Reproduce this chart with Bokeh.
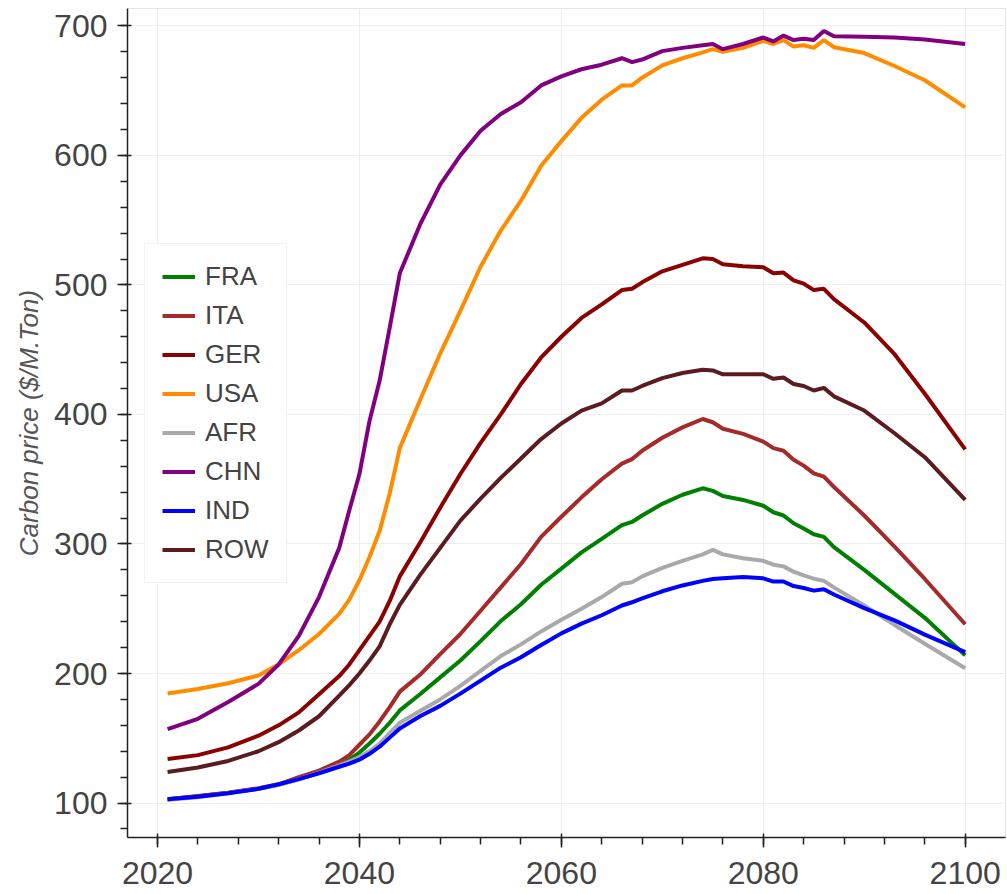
from bokeh.plotting import figure
from bokeh.models import Range1d, SingleIntervalTicker
from bokeh.embed import file_html
from bokeh.resources import INLINE

years = [2021, 2024, 2027, 2030, 2032, 2034, 2036, 2038, 2039, 2040, 2041, 2042, 2043, 2044,
         2046, 2048, 2050, 2052, 2054, 2056, 2058, 2060, 2062, 2064, 2066, 2067, 2068, 2070,
         2072, 2074, 2075, 2076, 2078, 2080, 2081, 2082, 2083, 2084, 2085, 2086, 2087, 2090,
         2093, 2096, 2100]

FRA = [103, 105.3, 108, 111, 114, 118.5, 123.5, 129, 133.5, 139, 146, 153.5, 162, 171.5,
       184, 197, 210, 225, 240.5, 253.5, 268.5, 281, 293.5, 304, 314.5, 317, 322, 331,
       338, 343, 341, 337, 334, 329.5, 324.5, 322, 316, 312, 307.5, 305.5, 297.5, 280,
       261.5, 243, 214]
ITA = [103, 105.5, 108, 111.5, 114.5, 120, 125, 132, 137, 145, 153, 163, 174, 186,
       199, 215, 230.5, 248.5, 266.5, 284.5, 305.5, 321, 336, 350, 362, 365.5, 372, 382,
       390, 396.5, 394, 389, 385, 379, 374, 372, 365, 360.5, 354.5, 352, 344, 322,
       298, 273, 238]
GER = [134, 137, 143, 152, 160, 170, 184, 198, 207, 218, 229, 240, 256, 275,
       301, 328, 354, 378, 400, 423.5, 444, 460, 474.5, 485, 496, 497, 502, 510.5,
       515.5, 520.5, 520, 516, 514.5, 513.7, 509, 509.5, 503.5, 501, 496, 497, 489, 471,
       446.5, 416, 373]
USA = [184.5, 188, 192.5, 198.5, 207, 218, 230.5, 246, 257, 272, 290, 310, 339, 374,
       411, 447, 480, 514, 542, 565, 592, 611, 629, 643, 654, 654, 660, 669.5,
       675, 679.5, 682, 680, 683, 688.5, 686, 689, 684, 685, 683, 689, 683.5, 679,
       669, 658, 637]
AFR = [102.5, 104.5, 107.5, 111, 114, 118.5, 123.5, 129, 132, 135.5, 140, 146, 154, 162,
       171, 180, 190.5, 202, 213.5, 222.5, 232.5, 241.5, 250, 259, 269.3, 270.5, 275, 281.5,
       287, 292, 295.5, 292, 289, 287, 284, 282.7, 278.6, 275.7, 273.2, 271.5, 266.5, 252.5,
       237.5, 223, 204]
CHN = [157, 165, 178, 192, 207, 229, 259, 297, 326, 354, 395, 426, 467, 509,
       546.5, 577.5, 600, 619, 632, 641, 654, 661, 666.5, 670, 675, 672, 674, 680.5,
       683, 685, 686, 682, 686, 691, 688, 692.5, 689, 690, 689, 696, 692, 691.5,
       691, 689.5, 686]
IND = [103, 104.8, 107.5, 111, 114.5, 118.5, 123, 128, 130.5, 133.5, 138, 143.5, 150.5, 157.5,
       167, 175, 184.5, 194.5, 204.5, 212.5, 222, 231, 238.5, 245, 252.5, 255, 258, 263.5,
       268, 271.5, 273, 273.5, 274.5, 273.5, 271, 271, 267.5, 266, 264, 265, 261, 250.5,
       241, 230, 216.5]
ROW = [124, 127.5, 132.5, 140, 147, 156, 167, 183, 191, 200, 210, 221, 238, 253,
       276, 297, 318, 335, 351, 366, 381, 393, 403, 408.5, 418.5, 418.5, 422, 428,
       432, 434.5, 434, 431, 431, 431, 427.5, 428.5, 423.5, 422, 418.5, 420.5, 414, 403,
       385.5, 367, 334]

series = [("FRA", FRA, "#008000"), ("ITA", ITA, "#A52A2A"), ("GER", GER, "#8B0000"),
          ("USA", USA, "#FF8C00"), ("AFR", AFR, "#A9A9A9"), ("CHN", CHN, "#800080"),
          ("IND", IND, "#0000FF"), ("ROW", ROW, "#5B1B1F")]

FONT = "Liberation Sans"

p = figure(width=1007, height=894, output_backend="svg", toolbar_location=None,
           x_range=Range1d(2017.03, 2103.99), y_range=Range1d(73.4, 713.4),
           min_border_top=8, min_border_left=127, min_border_right=2, min_border_bottom=57)

for name, vals, col in series:
    p.line(years, vals, line_color=col, line_width=4, legend_label=name)

p.xaxis.ticker = SingleIntervalTicker(interval=20, num_minor_ticks=5)
p.yaxis.ticker = SingleIntervalTicker(interval=100, num_minor_ticks=5)

for ax in (p.xaxis[0], p.yaxis[0]):
    ax.major_label_text_font = FONT
    ax.major_label_text_font_size = "32px"
    ax.major_label_text_color = "#444444"
    ax.major_tick_out = 10
    ax.major_tick_in = 4
    ax.minor_tick_out = 7
    ax.minor_tick_in = 0
    ax.axis_line_width = 1.5
    ax.major_tick_line_width = 1.5
    ax.minor_tick_line_width = 1.5
    ax.axis_line_color = "#222222"
    ax.major_tick_line_color = "#222222"
    ax.minor_tick_line_color = "#222222"

p.xaxis.major_label_standoff = 14
p.yaxis.major_label_standoff = 10
p.yaxis.axis_label = "Carbon price ($/M.Ton)"
p.yaxis.axis_label_text_font = FONT
p.yaxis.axis_label_text_font_style = "italic"
p.yaxis.axis_label_text_font_size = "26px"
p.yaxis.axis_label_text_color = "#555555"
p.yaxis.axis_label_standoff = 7

p.xgrid.grid_line_color = "#eeeeee"
p.ygrid.grid_line_color = "#eeeeee"
p.outline_line_color = "#e5e5e5"

lg = p.legend[0]
lg.location = (17, 254)
lg.margin = 0
lg.padding = 17
lg.spacing = 8
lg.glyph_width = 33
lg.glyph_height = 31
lg.label_height = 31
lg.label_standoff = 10
lg.label_text_font = FONT
lg.label_text_font_size = "26px"
lg.label_text_color = "#444444"
lg.border_line_color = "#e5e5e5"
lg.background_fill_color = "white"
lg.background_fill_alpha = 1.0

open("out.html", "w").write(file_html(p, INLINE))
